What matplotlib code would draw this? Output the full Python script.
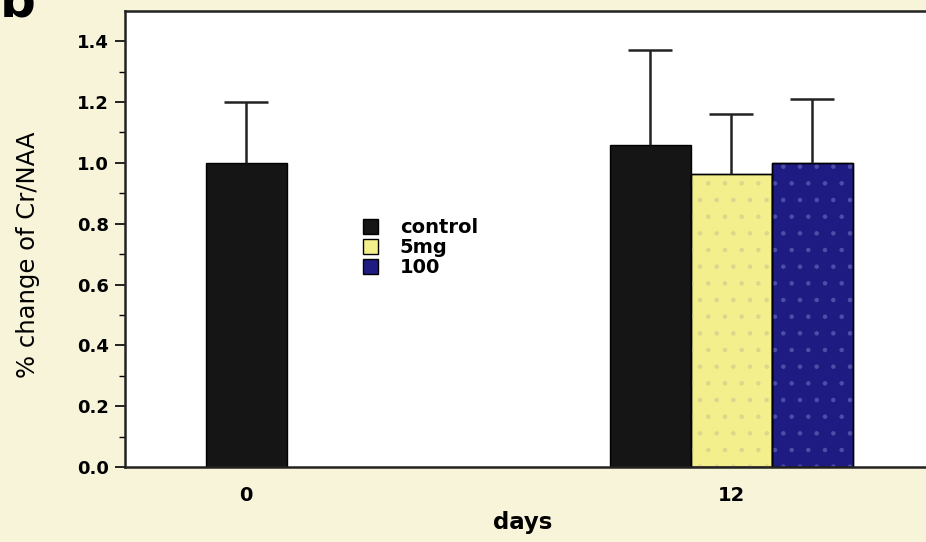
import matplotlib
matplotlib.use("Agg")
import matplotlib.pyplot as plt
from matplotlib.patches import Patch
from matplotlib.ticker import FixedLocator

plt.rcParams['font.family'] = ['DejaVu Sans']
plt.rcParams['hatch.linewidth'] = 0.8

days = ["0", "12"]
groups = ["control", "5mg", "100"]
# mean values per day for each group (None = not measured)
control_mean = [1.00, 1.06]
control_err = [0.20, 0.31]
mg5_mean = [None, 0.965]
mg5_err = [None, 0.195]
dose100_mean = [None, 1.00]
dose100_err = [None, 0.21]

colors = {"control": "#151515", "5mg": "#f3ef8c", "100": "#1e1c82"}
speckle = {"control": None, "5mg": "#dcd68e", "100": "#4c4ea8"}
bg = "#f8f4d9"

fig = plt.figure(figsize=(9.26, 5.42), dpi=100, facecolor=bg)
ax = fig.add_axes([0.135, 0.1384, 0.865, 0.8416])
ax.set_facecolor("white")

w = 0.167


def draw_bar(x, mean, err, name):
    ax.bar(x, mean, w, color=colors[name], edgecolor="black", linewidth=1, zorder=2)
    if speckle[name]:
        ax.bar(x, mean, w, facecolor="none", edgecolor=speckle[name],
               linewidth=0, hatch=".", zorder=2.1)
        ax.bar(x, mean, w, facecolor="none", edgecolor="black", linewidth=1, zorder=2.2)
    _, caps, _ = ax.errorbar(x, mean, yerr=[[0], [err]], fmt="none", ecolor="#222222",
                             elinewidth=1.8, capsize=16, capthick=1.8, zorder=3)
    caps[0].set_visible(False)


# day 0: control only
draw_bar(0, control_mean[0], control_err[0], "control")
# day 12: three groups side by side
series = [(control_mean, control_err, "control"),
          (mg5_mean, mg5_err, "5mg"),
          (dose100_mean, dose100_err, "100")]
for k, (m, e, name) in enumerate(series):
    draw_bar(1 + (k - 1) * w, m[1], e[1], name)

ax.set_xlim(-0.2495, 1.402)
ax.set_ylim(0, 1.5)
ax.set_xticks([0, 1])
ax.set_xticklabels(days, fontweight="bold", fontsize=14)
ax.tick_params(axis="x", length=0, pad=14)
ax.set_yticks([0.0, 0.2, 0.4, 0.6, 0.8, 1.0, 1.2, 1.4])
ax.set_yticklabels([f"{v:.1f}" for v in ax.get_yticks()], fontweight="bold", fontsize=13)
ax.yaxis.set_minor_locator(FixedLocator([0.1, 0.3, 0.5, 0.7, 0.9, 1.1, 1.3]))
ax.tick_params(axis="y", which="major", length=7.5, width=1.2, pad=4)
ax.tick_params(axis="y", which="minor", length=4, width=1)

for s in ["left", "bottom", "top"]:
    ax.spines[s].set_linewidth(1.8)
    ax.spines[s].set_color("#222222")
ax.spines["right"].set_visible(False)

ax.set_ylabel("% change of Cr/NAA", fontsize=17.5)
ax.yaxis.set_label_coords(-0.106, 0.465)
ax.set_xlabel("days", fontsize=16.5, fontweight="bold")
ax.xaxis.set_label_coords(0.496, -0.097)

handles = [Patch(facecolor=colors[g], edgecolor="black", linewidth=1) for g in groups]
leg = ax.legend(handles, groups, loc="upper left", bbox_to_anchor=(0.2975, 0.545),
                frameon=False, handlelength=0.78, handleheight=0.78,
                handletextpad=1.1, labelspacing=0.05, fontsize=14,
                borderaxespad=0, borderpad=0)
for t in leg.get_texts():
    t.set_fontweight("bold")

fig.text(0.0, 0.969, "b", fontsize=36, fontweight="bold", va="baseline", ha="left")

fig.savefig("out.png", dpi=100, facecolor=bg)
